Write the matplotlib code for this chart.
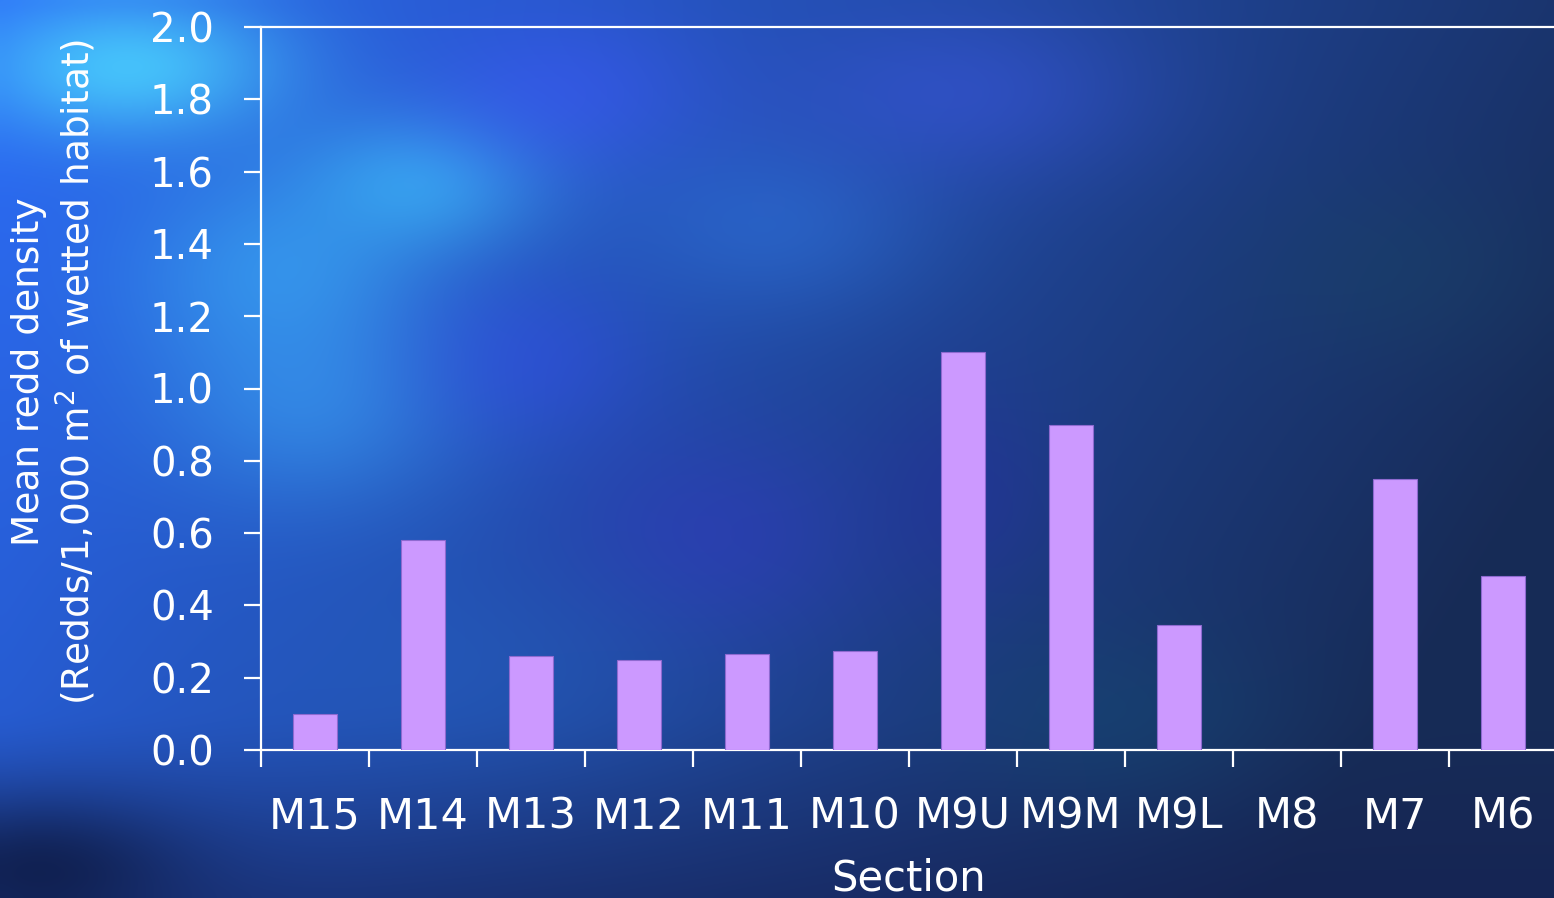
import numpy as np
import matplotlib
matplotlib.use("Agg")
import matplotlib.pyplot as plt

sections = ["M15", "M14", "M13", "M12", "M11", "M10", "M9U", "M9M", "M9L", "M8", "M7", "M6"]
density = [0.10, 0.58, 0.26, 0.25, 0.265, 0.275, 1.10, 0.90, 0.345, 0.0, 0.75, 0.48]
yticks = [0.0, 0.2, 0.4, 0.6, 0.8, 1.0, 1.2, 1.4, 1.6, 1.8, 2.0]

W, H = 1554, 898
fig = plt.figure(figsize=(W / 100, H / 100), dpi=100)

# ---- decorative blurred blue background ----
bg = fig.add_axes([0, 0, 1, 1], zorder=0)
bg.set_axis_off()
h, w = 90, 156
yy, xx = np.mgrid[0:h, 0:w]
xn = xx / (w - 1)
yn = yy / (h - 1)
rgb = np.zeros((h, w, 3))
t = np.clip(0.85 * xn + 0.30 * yn, 0, 1)
c0 = np.array([0.17, 0.42, 0.97])
c1 = np.array([0.09, 0.17, 0.34])
rgb += (1 - t)[..., None] * c0 + t[..., None] * c1
dark = np.clip((yn - 0.80) / 0.20, 0, 1) ** 1.2
rgb = rgb * (1 - 0.5 * dark[..., None]) + 0.5 * dark[..., None] * np.array([0.08, 0.12, 0.32])

def blob(cx, cy, sx, sy, col, a):
    g = np.exp(-(((xn - cx) / sx) ** 2 + ((yn - cy) / sy) ** 2))
    return g[..., None] * a, np.array(col)

blobs = [
    (0.08, 0.07, 0.10, 0.08, [0.30, 0.85, 1.0], 0.8),
    (0.27, 0.20, 0.08, 0.08, [0.25, 0.80, 1.0], 0.6),
    (0.18, 0.30, 0.10, 0.12, [0.25, 0.75, 1.0], 0.5),
    (0.20, 0.45, 0.10, 0.12, [0.25, 0.70, 1.0], 0.45),
    (0.36, 0.10, 0.10, 0.10, [0.25, 0.35, 1.0], 0.5),
    (0.34, 0.40, 0.08, 0.10, [0.20, 0.30, 0.90], 0.5),
    (0.46, 0.60, 0.10, 0.12, [0.20, 0.22, 0.75], 0.5),
    (0.30, 0.75, 0.15, 0.12, [0.15, 0.40, 0.78], 0.35),
    (0.50, 0.25, 0.10, 0.10, [0.20, 0.50, 0.92], 0.4),
    (0.62, 0.10, 0.12, 0.10, [0.25, 0.35, 0.92], 0.45),
    (0.62, 0.55, 0.06, 0.12, [0.15, 0.18, 0.62], 0.45),
    (0.72, 0.80, 0.10, 0.10, [0.08, 0.30, 0.45], 0.4),
    (0.90, 0.30, 0.10, 0.10, [0.10, 0.28, 0.40], 0.35),
    (0.02, 0.97, 0.10, 0.08, [0.03, 0.05, 0.15], 0.6),
]
for cx, cy, sx, sy, col, a in blobs:
    g, c = blob(cx, cy, sx, sy, col, a)
    rgb = rgb * (1 - g) + g * c
rgb = np.clip(rgb, 0, 1)
bg.imshow(rgb, aspect="auto", interpolation="bicubic", extent=[0, 1, 0, 1], transform=bg.transAxes)
bg.set_xlim(0, 1)
bg.set_ylim(0, 1)

# ---- chart ----
left = 261 / W
right = 1557 / W
bottom = (H - 750) / H
top = (H - 27) / H
ax = fig.add_axes([left, bottom, right - left, top - bottom], zorder=1)
ax.patch.set_alpha(0)

x = np.arange(len(sections))
ax.bar(x, density, width=0.4, color="#CC99FF", edgecolor="#8E6AD0", linewidth=0.8, zorder=3)

ax.set_xlim(-0.5, len(sections) - 0.5)
ax.set_ylim(0, 2.0)
ax.set_yticks(yticks)
ax.set_yticklabels([f"{v:.1f}" for v in yticks])
ax.set_xticks(x)
ax.set_xticklabels(sections)
ax.set_xticks(np.arange(len(sections) + 1) - 0.5, minor=True)

white = "white"
for s in ["left", "bottom", "top"]:
    ax.spines[s].set_color(white)
    ax.spines[s].set_linewidth(1.6)
ax.spines["right"].set_visible(False)

ax.tick_params(axis="y", which="major", direction="out", length=12, width=1.6, color=white,
               labelcolor=white, labelsize=29, pad=22)
ax.tick_params(axis="x", which="major", length=0, labelcolor=white, labelsize=31, pad=33)
ax.tick_params(axis="x", which="minor", direction="out", length=12, width=1.6, color=white)

for lab in ax.get_yticklabels() + ax.get_xticklabels():
    lab.set_fontfamily("DejaVu Sans")

ax.set_xlabel("Section", color=white, fontsize=30, labelpad=14)

fig.text(0.035, (H - 372) / H, "Mean redd density\n(Redds/1,000 m$^2$ of wetted habitat)",
         rotation=90, color=white, fontsize=27, ha="center", va="center",
         family="DejaVu Sans", linespacing=1.2, multialignment="center")

fig.savefig("out.png", dpi=100)
